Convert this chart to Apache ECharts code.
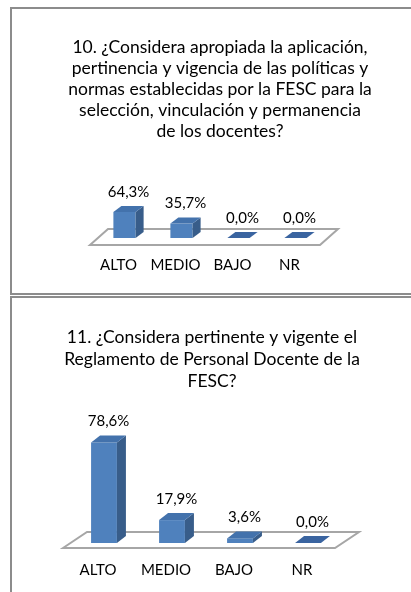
<!DOCTYPE html>
<html>
<head>
<meta charset="utf-8">
<script src="https://cdn.jsdelivr.net/npm/echarts@6/dist/echarts.min.js"></script>
<style>
  html, body { margin: 0; padding: 0; background: #fff; }
  #chart { width: 411px; height: 592px; }
</style>
</head>
<body>
<div id="chart"></div>
<script>
// datos
const categorias = ['ALTO', 'MEDIO', 'BAJO', 'NR']
const valores10 = [64.3, 35.7, 0.0, 0.0]
const valores11 = [78.6, 17.9, 3.6, 0.0]
const titulo10 = '10. ¿Considera apropiada la aplicación,\npertinencia y vigencia de las políticas y\nnormas establecidas por la FESC para la\nselección, vinculación y permanencia\nde los docentes?'
const titulo11 = '11. ¿Considera pertinente y vigente el\nReglamento de Personal Docente de la\nFESC?'

const fuente = 'Lato'

function formato(v) {
  return v.toFixed(1).replace('.', ',') + '%'
}

// barra 3D: cara frontal, superior y lateral
function barra3d(cfg) {
  return function(params, api) {
    const idx = api.value(0)
    const val = api.value(1)
    const base = api.coord([idx, 0])
    const tope = api.coord([idx, val])
    const bw = api.size([1, 0])[0] * cfg.ancho
    const x0 = base[0] + cfg.desvio - bw / 2
    const x1 = x0 + bw
    const yb = base[1]
    const yt = tope[1]
    const dx = cfg.dx
    const dy = cfg.dy
    const hijos = []
    if (yb - yt > 0.5) {
      hijos.push({
        type: 'rect',
        shape: { x: x0, y: yt, width: bw, height: yb - yt },
        style: { fill: '#4F81BD' }
      })
      hijos.push({
        type: 'polygon',
        shape: { points: [[x1, yt], [x1 + dx, yt - dy], [x1 + dx, yb - dy], [x1, yb]] },
        style: { fill: '#385D8A' }
      })
    }
    hijos.push({
      type: 'polygon',
      shape: { points: [[x0, yt], [x1, yt], [x1 + dx, yt - dy], [x0 + dx, yt - dy]] },
      style: { fill: yb - yt > 0.5 ? '#4372AC' : '#3A64A0' }
    })
    hijos.push({
      type: 'text',
      x: (x0 + x1) / 2 + dx / 2,
      y: yt - dy - 14,
      style: {
        text: formato(val),
        fill: '#000',
        font: '15px ' + fuente,
        align: 'center',
        verticalAlign: 'middle'
      }
    })
    return { type: 'group', children: hijos }
  }
}

// piso en perspectiva
function piso(cfg) {
  return function(params, api) {
    const p = api.coord([0, 0])
    const bw = api.size([1, 0])[0]
    const izq = p[0] - bw / 2 + cfg.izq
    const der = p[0] - bw / 2 + bw * categorias.length + cfg.der
    const yf = p[1] + cfg.frente
    const yt = p[1] - cfg.fondo
    return {
      type: 'polygon',
      shape: { points: [[izq, yf], [izq + cfg.dx, yt], [der + cfg.dx, yt], [der, yf]] },
      style: { fill: '#fff', stroke: '#a6a6a6', lineWidth: 2 }
    }
  }
}

const chart = echarts.init(document.getElementById('chart'))

const ejeX = (grid) => ({
  type: 'category',
  gridIndex: grid,
  data: categorias,
  axisLine: { show: false },
  axisTick: { show: false },
  axisLabel: { interval: 0, margin: 20, color: '#000', fontSize: 15, fontFamily: fuente }
})
const ejeY = (grid) => ({
  type: 'value',
  gridIndex: grid,
  min: 0,
  max: 100,
  show: false,
  splitLine: { show: false }
})

chart.setOption({
  animation: false,
  graphic: [
    {
      type: 'rect',
      shape: { x: 11, y: 8, width: 430, height: 286 },
      style: { fill: 'none', stroke: '#8c8c8c', lineWidth: 2 },
      z: 0
    },
    {
      type: 'rect',
      shape: { x: 11, y: 297, width: 430, height: 330 },
      style: { fill: 'none', stroke: '#8c8c8c', lineWidth: 2 },
      z: 0
    },
    {
      type: 'text',
      x: 220,
      y: 37,
      style: {
        text: titulo10,
        font: '17.5px ' + fuente,
        lineHeight: 21,
        fill: '#000',
        align: 'center',
        verticalAlign: 'top'
      }
    },
    {
      type: 'text',
      x: 212,
      y: 326,
      style: {
        text: titulo11,
        font: '17.5px ' + fuente,
        lineHeight: 22,
        fill: '#000',
        align: 'center',
        verticalAlign: 'top'
      }
    }
  ],
  grid: [
    { left: 90, right: 93, top: 197.5, bottom: 354 },
    { left: 64, right: 75, top: 415, bottom: 49 }
  ],
  xAxis: [ejeX(0), ejeX(1)],
  yAxis: [ejeY(0), ejeY(1)],
  series: [
    {
      type: 'custom',
      xAxisIndex: 0,
      yAxisIndex: 0,
      z: 1,
      renderItem: piso({ izq: 0, der: 2, dx: 18, frente: 7, fondo: 9 }),
      data: [[0, 0]]
    },
    {
      type: 'custom',
      xAxisIndex: 0,
      yAxisIndex: 0,
      z: 2,
      renderItem: barra3d({ ancho: 0.39, desvio: 6, dx: 8, dy: 6 }),
      data: valores10.map((v, i) => [i, v])
    },
    {
      type: 'custom',
      xAxisIndex: 1,
      yAxisIndex: 1,
      z: 1,
      renderItem: piso({ izq: -1, der: -1, dx: 24, frente: 5, fondo: 11 }),
      data: [[0, 0]]
    },
    {
      type: 'custom',
      xAxisIndex: 1,
      yAxisIndex: 1,
      z: 2,
      renderItem: barra3d({ ancho: 0.38, desvio: 6, dx: 9, dy: 7 }),
      data: valores11.map((v, i) => [i, v])
    }
  ]
})
</script>
</body>
</html>
